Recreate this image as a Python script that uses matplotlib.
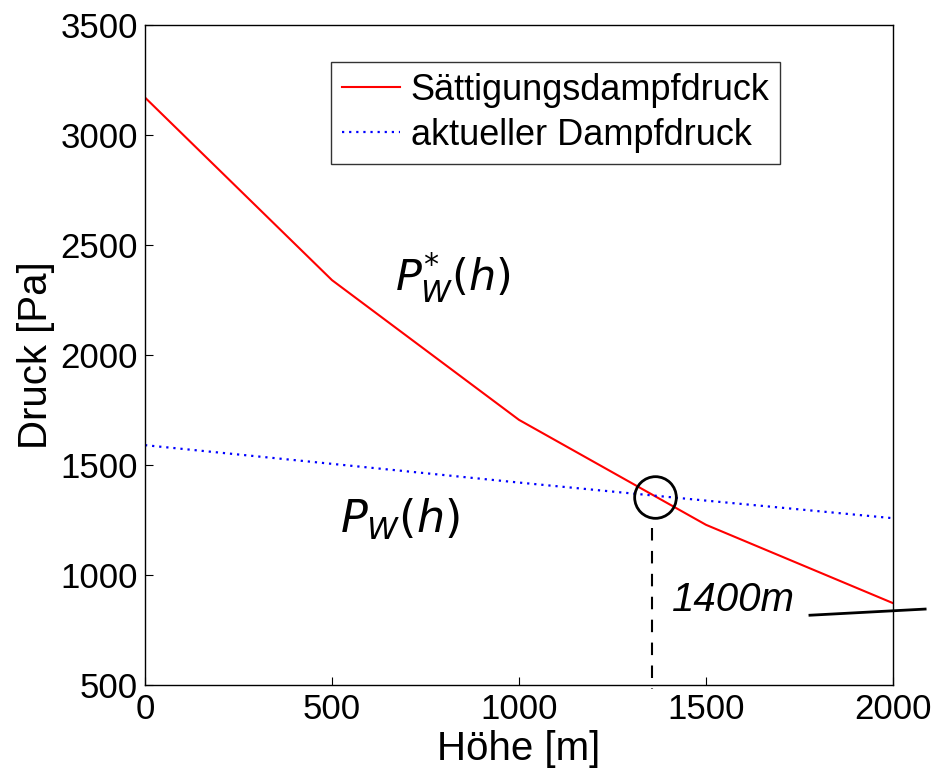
import matplotlib
matplotlib.use('Agg')
import matplotlib.pyplot as plt

plt.rcParams['font.family'] = ['Liberation Sans', 'DejaVu Sans']

# values
hoehe = [0, 500, 1000, 1500, 2000]
saettigung = [3170, 2340, 1705, 1228, 872]
aktuell = [1590, 1505, 1420, 1338, 1258]

fig = plt.figure(figsize=(9.38, 7.79), dpi=100)
ax = fig.add_axes([0.1546, 0.1207, 0.7974, 0.8473])

ax.plot(hoehe, saettigung, color='red', lw=1.5, label='Sättigungsdampfdruck')
ax.plot(hoehe, aktuell, color='blue', lw=1.6, ls=(0, (1, 2.2)), label='aktueller Dampfdruck')

ax.set_xlim(0, 2000)
ax.set_ylim(500, 3500)
ax.set_xticks([0, 500, 1000, 1500, 2000])
ax.set_yticks(range(500, 3501, 500))
ax.tick_params(direction='in', length=6, labelsize=25)
ax.tick_params(axis='x', pad=6)
ax.tick_params(axis='y', pad=5)
for s in ax.spines.values():
    s.set_linewidth(1)
ax.set_xlabel('Höhe [m]', fontsize=29, labelpad=3)
ax.set_ylabel('Druck [Pa]', fontsize=29, labelpad=4)

leg = ax.legend(loc='upper left', bbox_to_anchor=(0.249, 0.944), fontsize=26,
                frameon=True, fancybox=False, edgecolor='black',
                handlelength=1.6, handletextpad=0.3, borderpad=0.3,
                labelspacing=0.28, borderaxespad=0)
leg.get_frame().set_linewidth(1)

# handwritten notes
ax.text(668, 2295, r'$P^{*}_{W}(h)$', fontsize=31, color='black')
ax.text(521, 1190, r'$P_{W}(h)$', fontsize=32, color='black')
ax.plot([1364], [1355], marker='o', ms=30, mfc='none', mec='black', mew=2)
ax.plot([1356, 1356], [1214, 480], color='black', lw=1.5, ls=(0, (6, 5)), clip_on=False)
ax.text(1409, 835, '1400m', fontsize=29, color='black', style='italic')
ax.plot([1778, 2086], [817, 845], color='black', lw=2, clip_on=False)

fig.savefig('out.png', dpi=100)
